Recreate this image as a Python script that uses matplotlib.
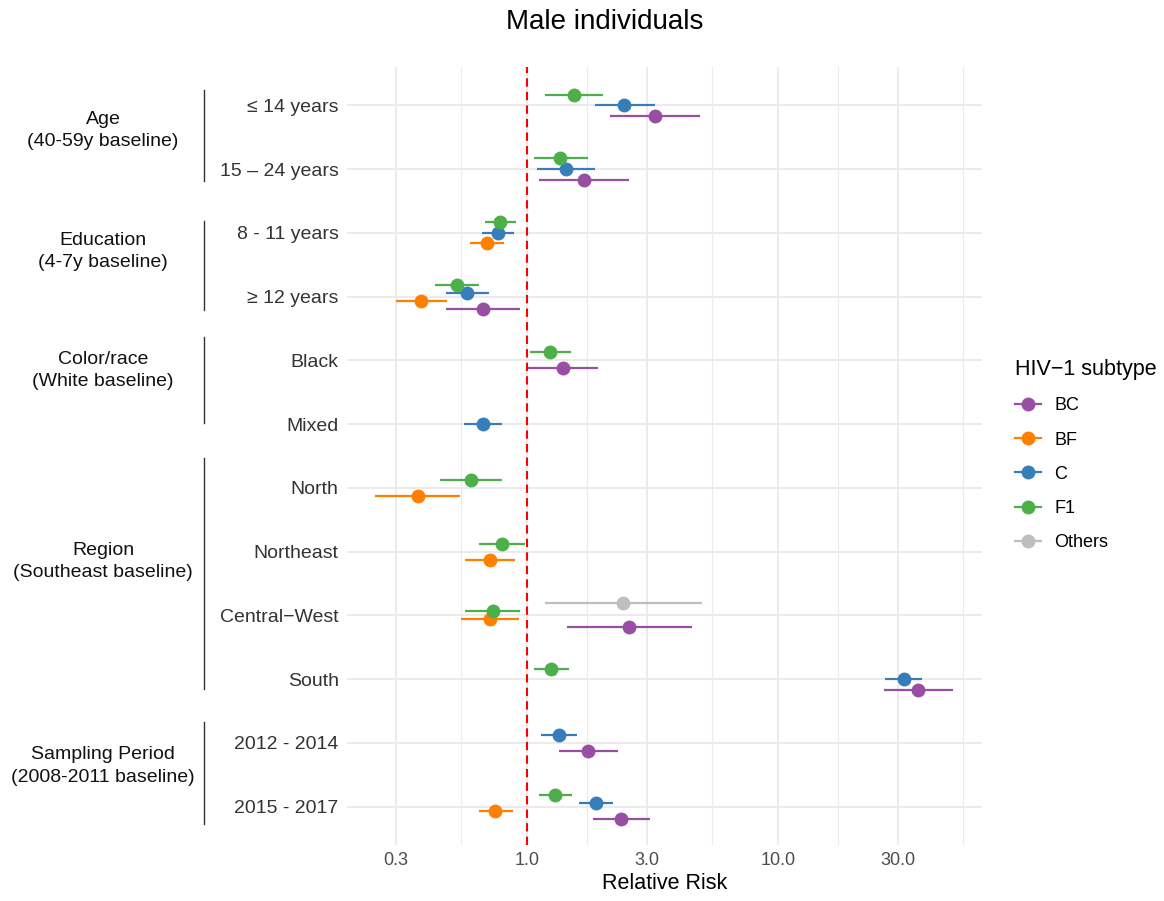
import matplotlib
matplotlib.use("Agg")
import matplotlib.pyplot as plt
import matplotlib.transforms as mtransforms
from matplotlib.lines import Line2D
import numpy as np

plt.rcParams['font.family'] = ['Liberation Sans', 'DejaVu Sans']

# --- categories (top to bottom) ---
rows = ["\u2264 14 years", "15 \u2013 24 years", "8 - 11 years", "\u2265 12 years",
        "Black", "Mixed", "North", "Northeast", "Central\u2212West", "South",
        "2012 - 2014", "2015 - 2017"]

subtypes = ["BC", "BF", "C", "F1", "Others"]
colores = ["#984EA3", "#FF7F00", "#377EB8", "#4DAF4A", "#BEBEBE"]

# --- relative risk + 95% CI per subtype ---
bc_rows = ["\u2264 14 years", "15 \u2013 24 years", "\u2265 12 years", "Black",
           "Central\u2212West", "South", "2012 - 2014", "2015 - 2017"]
bc_rr = [3.24, 1.69, 0.668, 1.39, 2.55, 36.2, 1.75, 2.38]
bc_lo = [2.14, 1.12, 0.476, 1.012, 1.44, 26.5, 1.34, 1.83]
bc_hi = [4.89, 2.54, 0.938, 1.92, 4.53, 49.7, 2.31, 3.10]

bf_rows = ["8 - 11 years", "\u2265 12 years", "North", "Northeast",
           "Central\u2212West", "2015 - 2017"]
bf_rr = [0.693, 0.379, 0.367, 0.713, 0.711, 0.748]
bf_lo = [0.594, 0.300, 0.249, 0.568, 0.548, 0.643]
bf_hi = [0.807, 0.479, 0.539, 0.900, 0.927, 0.878]

c_rows = ["\u2264 14 years", "15 \u2013 24 years", "8 - 11 years", "\u2265 12 years",
          "Mixed", "South", "2012 - 2014", "2015 - 2017"]
c_rr = [2.43, 1.435, 0.766, 0.578, 0.668, 31.7, 1.34, 1.89]
c_lo = [1.87, 1.096, 0.662, 0.476, 0.561, 26.8, 1.14, 1.61]
c_hi = [3.24, 1.87, 0.890, 0.708, 0.797, 37.6, 1.58, 2.20]

f1_rows = ["\u2264 14 years", "15 \u2013 24 years", "8 - 11 years", "\u2265 12 years",
           "Black", "North", "Northeast", "Central\u2212West", "South", "2015 - 2017"]
f1_rr = [1.54, 1.36, 0.783, 0.525, 1.239, 0.598, 0.799, 0.732, 1.25, 1.29]
f1_lo = [1.18, 1.066, 0.678, 0.431, 1.028, 0.450, 0.647, 0.568, 1.07, 1.115]
f1_hi = [2.01, 1.745, 0.901, 0.642, 1.50, 0.797, 0.985, 0.940, 1.47, 1.51]

ot_rows = ["Central\u2212West"]
ot_rr = [2.42]
ot_lo = [1.18]
ot_hi = [4.97]

datos = {
    "BC": (bc_rows, bc_rr, bc_lo, bc_hi),
    "BF": (bf_rows, bf_rr, bf_lo, bf_hi),
    "C": (c_rows, c_rr, c_lo, c_hi),
    "F1": (f1_rows, f1_rr, f1_lo, f1_hi),
    "Others": (ot_rows, ot_rr, ot_lo, ot_hi),
}

# --- grupos (label, line top, line bottom, text centre) in row units ---
grupos = [
    ("Age\n(40-59y baseline)", -0.235, 1.188, 0.392),
    ("Education\n(4-7y baseline)", 1.821, 3.203, 2.289),
    ("Color/race\n(White baseline)", 3.637, 4.976, 4.16),
    ("Region\n(Southeast baseline)", 5.531, 9.157, 7.151),
    ("Sampling Period\n(2008-2011 baseline)", 9.666, 11.267, 10.361),
]

xticks = [0.3, 1.0, 3.0, 10.0, 30.0]
dodge = 0.5

# --- GRAFICO ---
W, H = 1164, 901
fig = plt.figure(figsize=(W / 100, H / 100), dpi=100)
ax = fig.add_axes([347 / W, 56 / H, 635 / W, 778 / H])

# which subtypes are in each row (for dodging)
presentes = {r: [s for s in subtypes if r in datos[s][0]] for r in rows}

for s, col in zip(subtypes, colores):
    rr_rows, rr, lo, hi = datos[s]
    ys = []
    for r in rr_rows:
        grp = presentes[r]
        n = len(grp)
        k = grp.index(s)
        off = -dodge / 2 + (k + 0.5) * dodge / n
        ys.append(rows.index(r) - off)
    ax.hlines(ys, lo, hi, color=col, lw=1.6, zorder=3)
    ax.plot(rr, ys, 'o', color=col, ms=10, mec='none', zorder=4)

ax.axvline(1.0, color='red', lw=1.5, ls=(0, (4, 2.5)), zorder=2)

ax.set_xscale('log')
ax.set_xlim(0.192, 65)
ax.set_ylim(len(rows) - 0.4, -0.6)

ax.set_xticks(xticks)
ax.set_xticklabels([f"{t:.1f}" for t in xticks])
mx = np.array(xticks + [100.0])
ax.set_xticks(np.sqrt(mx[:-1] * mx[1:]), minor=True)
ax.xaxis.set_minor_formatter(matplotlib.ticker.NullFormatter())
ax.set_yticks(range(len(rows)))
ax.set_yticklabels(rows)

ax.grid(True, which='major', color='#EBEBEB', lw=1.4, zorder=0)
ax.grid(True, which='minor', axis='x', color='#EBEBEB', lw=0.8, zorder=0)
ax.set_axisbelow(True)
for sp in ax.spines.values():
    sp.set_visible(False)
ax.tick_params(which='both', length=0)
ax.tick_params(axis='y', labelsize=14, labelcolor='#333333', pad=6)
ax.tick_params(axis='x', labelsize=13, labelcolor='#4D4D4D', pad=5)
ax.set_xlabel("Relative Risk", fontsize=15.5, labelpad=3)

fig.text(605 / W, 1 - 22 / H, "Male individuals", fontsize=20, ha='center', va='center')

# group labels + brackets
trans = mtransforms.blended_transform_factory(fig.transFigure, ax.transData)
for lab, top, bot, yc in grupos:
    ax.add_line(Line2D([204 / W, 204 / W], [top, bot], transform=trans,
                       color='#333333', lw=1.0, clip_on=False))
    ax.text(103 / W, yc, lab, transform=trans, ha='center', va='center',
            fontsize=14, color='#111111', linespacing=1.4)

# leyenda
handles = [Line2D([], [], color=c, marker='o', ms=10, mec='none', lw=1.6) for c in colores]
leg = fig.legend(handles, subtypes, loc='upper left', bbox_to_anchor=(999 / W, 1 - 343 / H),
                 title="HIV\u22121 subtype", frameon=False, fontsize=13, title_fontsize=15.5,
                 handlelength=1.45, labelspacing=0.95, handletextpad=0.7, alignment='left')

fig.savefig("out.png", dpi=100)
